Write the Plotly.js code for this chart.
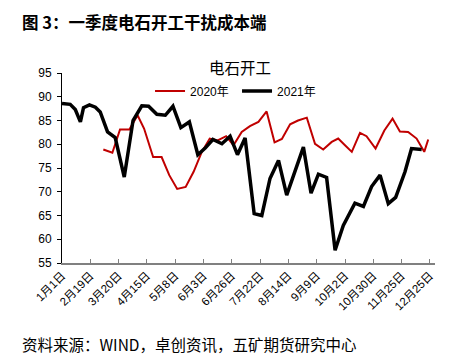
<!DOCTYPE html>
<html><head><meta charset="utf-8">
<script src="https://cdn.plot.ly/plotly-3.0.1.min.js"></script>
<style>html,body{margin:0;padding:0;background:#fff;}#chart{width:474px;height:364px;}</style>
</head><body><div id="chart"></div>
<script>
// X tick labels (one per label interval)
const tickLabels = ["1月1日","2月19日","3月20日","4月15日","5月8日","6月3日","6月26日","7月22日","8月14日","9月9日","10月2日","10月30日","11月25日","12月25日"];
const yTicks = [55,60,65,70,75,80,85,90,95];

// Positions are expressed in label-interval units (0 = 1月1日, 13 = 12月25日)
const pos2020 = [1.46,1.78,2.05,2.38,2.67,2.90,3.22,3.52,3.79,4.07,4.37,4.65,4.94,5.22,5.50,5.80,6.06,6.35,6.64,6.94,7.23,7.51,7.77,8.06,8.34,8.65,8.94,9.23,9.53,9.76,10.00,10.24,10.53,10.76,11.08,11.39,11.68,11.94,12.23,12.53,12.80,12.94];
const val2020 = [78.9,78.2,83.1,83.1,86.1,83.3,77.3,77.3,73.5,70.6,71.0,74.2,78.4,81.2,80.8,81.7,79.8,82.6,83.8,84.7,86.9,80.4,81.1,84.2,85.0,85.6,80.1,78.9,80.5,81.2,79.8,78.4,82.4,81.7,79.1,82.9,85.4,82.7,82.6,81.2,78.4,81.0];

const pos2021 = [0.00,0.29,0.47,0.65,0.76,0.97,1.18,1.35,1.61,1.88,2.20,2.51,2.82,3.06,3.35,3.65,3.92,4.20,4.50,4.80,5.06,5.33,5.65,5.94,6.20,6.47,6.79,7.06,7.35,7.65,7.94,8.24,8.53,8.80,9.06,9.35,9.65,9.94,10.16,10.35,10.65,10.94,11.24,11.53,11.79,12.12,12.35,12.71];
const val2021 = [88.6,88.4,87.3,84.7,87.7,88.3,87.8,86.8,82.6,81.4,73.1,85.0,88.1,88.0,86.3,86.1,88.0,83.5,84.7,77.8,79.2,81.0,80.1,81.7,77.8,81.3,65.4,65.0,72.8,76.6,69.3,74.3,79.4,69.7,73.7,73.0,57.7,62.9,65.4,67.6,66.9,71.1,73.5,67.5,68.8,74.2,79.1,78.9];

const seriesNames = ["2020年","2021年"];
const figTitle = "图 3：一季度电石开工干扰成本端";
const chartTitle = "电石开工";
const sourceNote = "资料来源：WIND，卓创资讯，五矿期货研究中心";

const cjk = "Liberation Sans, Arial, 'Noto Sans CJK SC', sans-serif";

const traces = [
  {x: pos2020, y: val2020, name: seriesNames[0], type: 'scatter', mode: 'lines',
   line: {color: '#C00000', width: 2}, hoverinfo: 'skip'},
  {x: pos2021, y: val2021, name: seriesNames[1], type: 'scatter', mode: 'lines',
   line: {color: '#000000', width: 3.5}, hoverinfo: 'skip'}
];

const layout = {
  width: 474, height: 364,
  margin: {l: 62, r: 39, t: 73, b: 101, pad: 0},
  paper_bgcolor: '#fff', plot_bgcolor: '#fff',
  showlegend: true,
  legend: {orientation: 'h', x: 0.236, xanchor: 'left', y: 0.905, yanchor: 'middle',
           font: {family: cjk, size: 12, color: '#000'}, bgcolor: 'rgba(0,0,0,0)',
           entrywidth: 42, entrywidthmode: 'pixels', traceorder: 'normal'},
  xaxis: {
    range: [0, 13.18], tickvals: tickLabels.map((_, i) => i), ticktext: tickLabels,
    tickangle: -45, ticks: 'inside', ticklen: 4, tickcolor: '#808080',
    showline: true, linecolor: '#808080', linewidth: 1.5, showgrid: false, zeroline: false,
    tickfont: {family: cjk, size: 11.5, color: '#000'}, fixedrange: true
  },
  yaxis: {
    range: [55, 95], tickvals: yTicks, ticks: 'outside', ticklen: 4, tickcolor: '#000',
    showline: true, linecolor: '#000', linewidth: 1, showgrid: false, zeroline: false,
    tickfont: {family: cjk, size: 12, color: '#000'}, ticklabelstandoff: 3, fixedrange: true
  },
  annotations: [
    {text: '<b>' + figTitle + '</b>', xref: 'paper', yref: 'paper', x: -0.1117, y: 1.27,
     xanchor: 'left', yanchor: 'middle', showarrow: false,
     font: {family: "'Noto Sans CJK SC', sans-serif", size: 16.5, color: '#000'}},
    {text: chartTitle, xref: 'paper', yref: 'paper', x: 0.4776, y: 1.03,
     xanchor: 'center', yanchor: 'middle', showarrow: false,
     font: {family: "'Noto Sans CJK SC', sans-serif", size: 15.5, color: '#000'}},
    {text: sourceNote, xref: 'paper', yref: 'paper', x: -0.1117, y: -0.428,
     xanchor: 'left', yanchor: 'middle', showarrow: false,
     font: {family: "'Noto Sans CJK SC', sans-serif", size: 15.5, color: '#000'}}
  ]
};

Plotly.newPlot('chart', traces, layout, {displayModeBar: false, staticPlot: true});
</script>
</body></html>
